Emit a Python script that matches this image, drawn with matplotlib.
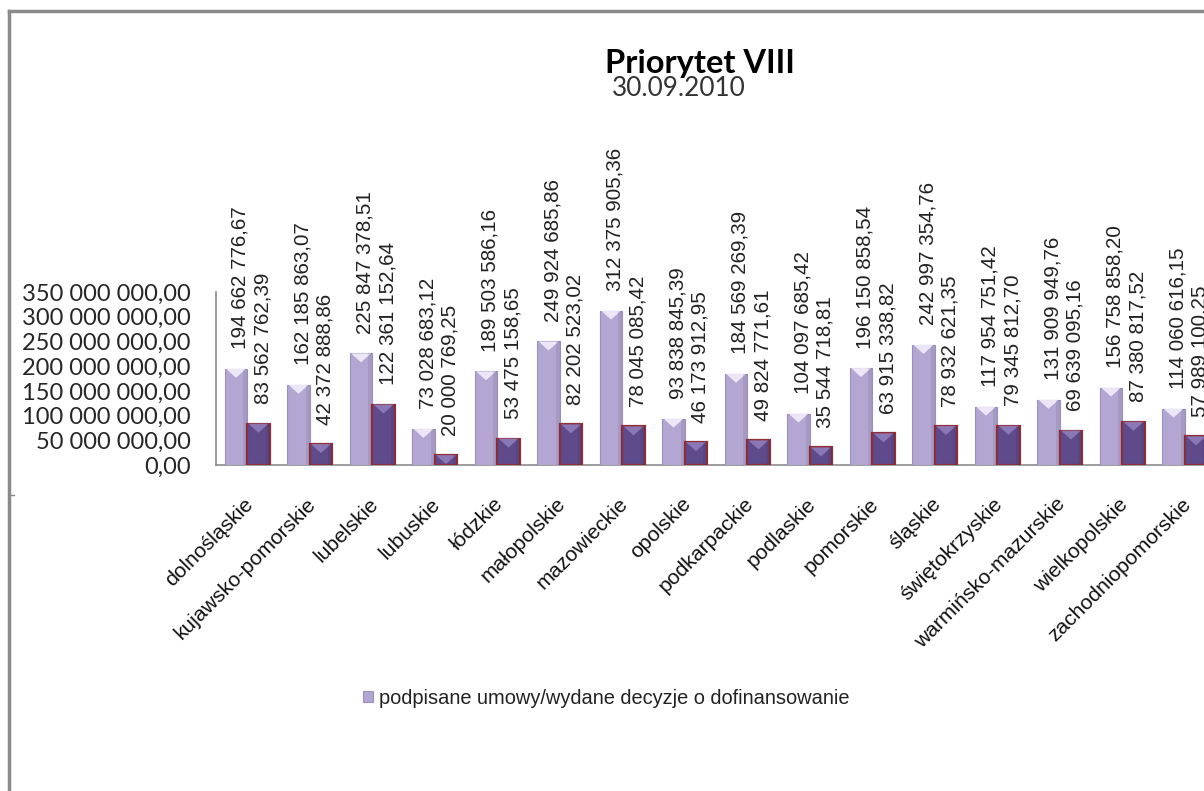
import matplotlib
matplotlib.use("Agg")
import matplotlib.pyplot as plt
from matplotlib.patches import Polygon, Rectangle
from matplotlib.lines import Line2D
import matplotlib.transforms as mtransforms

# ---------------- data ----------------
categories = ["dolnośląskie", "kujawsko-pomorskie", "lubelskie", "lubuskie", "łódzkie",
              "małopolskie", "mazowieckie", "opolskie", "podkarpackie", "podlaskie",
              "pomorskie", "śląskie", "świętokrzyskie", "warmińsko-mazurskie",
              "wielkopolskie", "zachodniopomorskie"]
umowy = [194662776.67, 162185863.07, 225847378.51, 73028683.12, 189503586.16,
         249924685.86, 312375905.36, 93838845.39, 184569269.39, 104097685.42,
         196150858.54, 242997354.76, 117954751.42, 131909949.76, 156758858.20,
         114060616.15]
wyplaty = [83562762.39, 42372888.86, 122361152.64, 20000769.25, 53475158.65,
           82202523.02, 78045085.42, 46173912.95, 49824771.61, 35544718.81,
           63915338.82, 78932621.35, 79345812.70, 69639095.16, 87380817.52,
           57989100.25]
yticks = [0, 50e6, 100e6, 150e6, 200e6, 250e6, 300e6, 350e6]
ytick_labels = ["0,00", "50 000 000,00", "100 000 000,00", "150 000 000,00",
                "200 000 000,00", "250 000 000,00", "300 000 000,00", "350 000 000,00"]
series_name = "podpisane umowy/wydane decyzje o dofinansowanie"
title = "Priorytet VIII"
subtitle = "30.09.2010"


def fmt(v):
    return f"{v:,.2f}".replace(",", " ").replace(".", ",")


W, H = 1204, 791
fig = plt.figure(figsize=(W / 100, H / 100), dpi=100)
fig.patch.set_facecolor("white")

# axes placed in pixel terms (extends past right edge like the clipped original)
ax_left, ax_right, ax_base, ax_top = 216, 1216, 465, 292
ax = fig.add_axes([ax_left / W, 1 - ax_base / H, (ax_right - ax_left) / W, (ax_base - ax_top) / H])
ax.set_facecolor("none")
ax.set_xlim(-0.5, len(categories) - 0.5)
ax.set_ylim(0, 350e6)

bw = 0.36
off = 0.18
x = list(range(len(categories)))
light_face, light_edge, light_tri = "#B3A6D2", "#9C8DC2", "#F3EEFB"
dark_face, dark_edge, dark_tri = "#5F4B8B", "#8E2F3C", "#8F7DBA"

bars1 = ax.bar([i - off for i in x], umowy, width=bw, color=light_face,
               edgecolor=light_edge, linewidth=0.8, zorder=3, label=series_name)
bars2 = ax.bar([i + off for i in x], wyplaty, width=bw, color=dark_face,
               edgecolor=dark_edge, linewidth=1.6, zorder=3)

# bevel highlight triangles on the bar tops (computed from bar geometry)
px_per_unit = (ax_base - ax_top) / 350e6
tri_h = 9 / px_per_unit
for bars, tri_col in ((bars1, light_tri), (bars2, dark_tri)):
    for b in bars:
        x0 = b.get_x()
        x1 = x0 + b.get_width()
        h = b.get_height()
        ax.add_patch(Polygon([(x0 + 0.02, h), (x1 - 0.02, h), ((x0 + x1) / 2, h - tri_h)],
                             closed=True, facecolor=tri_col, edgecolor="none",
                             alpha=0.9, zorder=4))
        # subtle side shading
        ax.add_patch(Rectangle((x1 - b.get_width() * 0.18, 0), b.get_width() * 0.18, h,
                               facecolor="black", alpha=0.07, edgecolor="none", zorder=4))

# data labels
lab_font = dict(family="Liberation Sans", fontsize=14.9, color="#222222")
for bars, vals in ((bars1, umowy), (bars2, wyplaty)):
    for b, v in zip(bars, vals):
        ax.annotate(fmt(v), (b.get_x() + b.get_width() / 2, v), xytext=(3, 14),
                    textcoords="offset points", rotation=90, ha="center", va="bottom",
                    annotation_clip=False, **lab_font)

# axes styling
for s in ("top", "right"):
    ax.spines[s].set_visible(False)
ax.spines["left"].set_color("#8C8C8C")
ax.spines["bottom"].set_color("#8C8C8C")
ax.spines["left"].set_linewidth(1.2)
ax.spines["bottom"].set_linewidth(1.2)

ax.set_yticks(yticks)
ax.set_yticklabels(ytick_labels, family="Lato", fontsize=17, color="#262626")
ax.tick_params(axis="y", length=0, pad=18)

ax.set_xticks(x)
ax.set_xticklabels(categories, rotation=45, ha="right", va="center",
                   rotation_mode="anchor", family="Liberation Sans", fontsize=15.2,
                   color="#111111")
ax.tick_params(axis="x", length=0, pad=26)
shift = mtransforms.ScaledTranslation(3 / 100, 0, fig.dpi_scale_trans)
for lbl in ax.get_xticklabels():
    lbl.set_transform(lbl.get_transform() + shift)

# titles
fig.text(700 / W, 1 - 63 / H, title, family="Lato", fontweight="bold", fontsize=23.5,
         ha="center", va="center", color="#000000")
fig.text(679 / W, 1 - 88 / H, subtitle, family="Lato", fontsize=18.8,
         ha="center", va="center", color="#333333")

# legend (only first entry visible as in the original)
fig.legend(handles=[bars1], labels=[series_name], loc="center",
           bbox_to_anchor=(606 / W, 1 - 698 / H), frameon=False,
           prop=dict(family="Liberation Sans", size=14.4), handlelength=0.5,
           handleheight=0.5, handletextpad=0.3, labelcolor="#222222")

# outer chart frame (left and top edges visible)
fig.add_artist(Line2D([8.5 / W, 8.5 / W], [0, 1 - 11 / H], color="#8A8A8A", lw=2.5))
fig.add_artist(Line2D([8.5 / W, 1.0], [1 - 11 / H, 1 - 11 / H], color="#8A8A8A", lw=2.5))
fig.add_artist(Line2D([8.5 / W, 14 / W], [1 - 495 / H, 1 - 495 / H], color="#8A8A8A", lw=1))

fig.savefig("out.png", dpi=100)
